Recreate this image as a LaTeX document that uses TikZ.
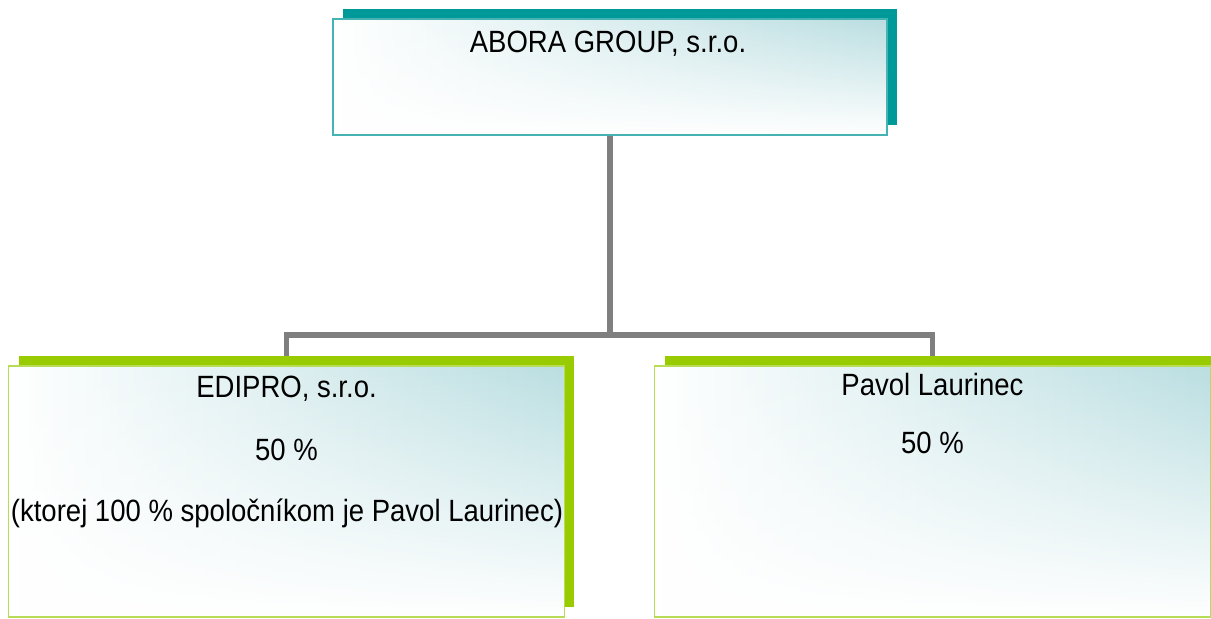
\documentclass[tikz,border=0pt]{standalone}
\usepackage{fontspec}
\setmainfont[FakeStretch=0.895]{Liberation Sans}
\usetikzlibrary{positioning,shadows,fadings,backgrounds}
\definecolor{aborateal}{HTML}{009999}
\definecolor{aboraline}{HTML}{45B3B3}
\definecolor{partgreen}{HTML}{99CC00}
\definecolor{partline}{HTML}{B8DC55}
\definecolor{boxtint}{HTML}{BADEE1}
\definecolor{linkgray}{HTML}{7F7F7F}

\begin{document}
\begin{tikzpicture}[x=0.02cm,y=-0.02cm]
 \tikzset{box/.style={rectangle,inner sep=0,line width=1pt,left color=white,right color=boxtint,
   path picture={\fill[white,path fading=north] (path picture bounding box.south west) rectangle (path picture bounding box.north east);}},
  topbox/.style={box,draw=aboraline,minimum width=11.08cm,minimum height=2.32cm,
   general shadow={fill=aborateal,shadow xshift=0.2cm,shadow yshift=0.2cm}},
  partbox/.style={box,draw=partline,minimum width=11.12cm,minimum height=5.02cm,
   general shadow={fill=partgreen,shadow xshift=0.2cm,shadow yshift=0.2cm}},
  txt/.style={anchor=base,inner sep=0,font=\fontsize{17.5}{21}\selectfont},
  link/.style={draw=linkgray,line width=3pt}}
 \useasboundingbox (0,0) rectangle (1211,619);

 \node[topbox] (abora) at (610,77) {};
 \node[partbox] (edipro) at (286.5,491.5) {};
 \node[partbox] (laurinec) at (932.5,491.5) {};

 \node[txt] (aboraname) at (608,52) {ABORA GROUP, s.r.o.};
 \node[txt] (ediproname) at (286.5,397) {EDIPRO, s.r.o.};
 \node[txt] (ediproshare) at (286.5,460) {50 \%};
 \node[txt] (ediprostake) at (287,521) {(ktorej 100 \% spoločníkom je Pavol Laurinec)};
 \node[txt] (laurinecname) at (932.5,395) {Pavol Laurinec};
 \node[txt] (laurinecshare) at (932.5,453) {50 \%};

 % connectors sit behind the boxes
 \begin{scope}[on background layer]
  \coordinate (split) at (610,335);
  \draw[link] (abora) -- (split) -| (edipro);
  \draw[link] (split) -| (laurinec);
 \end{scope}
\end{tikzpicture}
\end{document}
